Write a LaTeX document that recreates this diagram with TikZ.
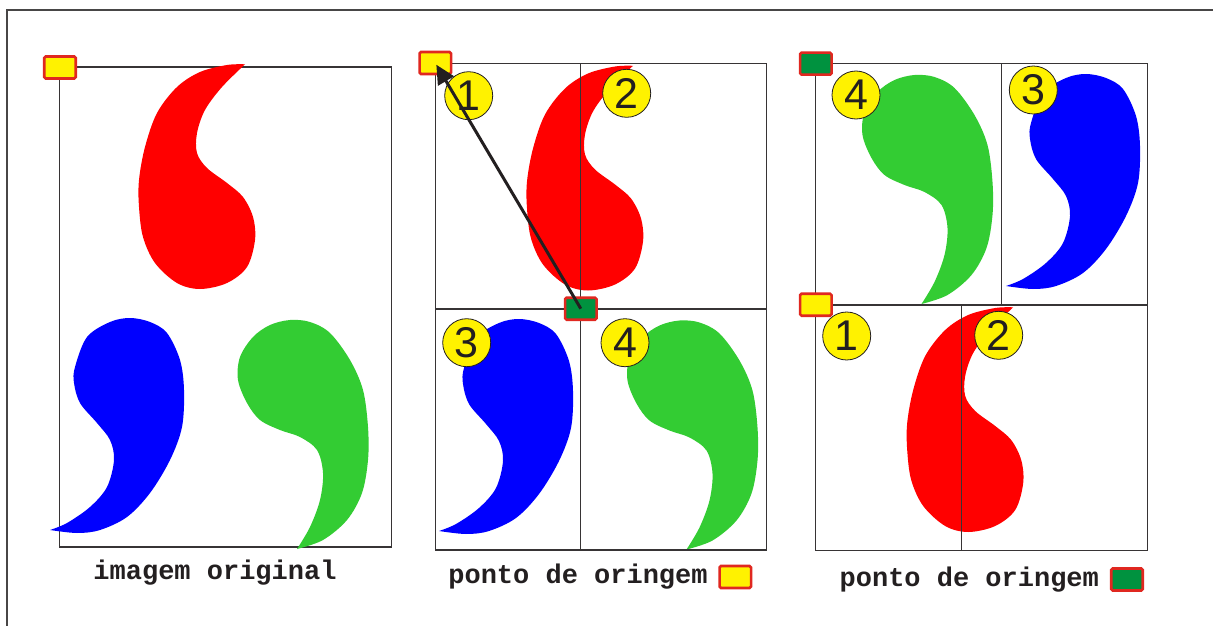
\documentclass[tikz,border=0pt]{standalone}
\usepackage{fontspec}
\setmainfont{Liberation Sans}
\setmonofont{Liberation Mono}
\usetikzlibrary{arrows.meta}

\definecolor{cred}{RGB}{255,0,0}
\definecolor{cblue}{RGB}{0,0,255}
\definecolor{cgreen}{RGB}{51,204,51}
\definecolor{myellow}{RGB}{255,242,0}
\definecolor{mkred}{RGB}{224,40,32}
\definecolor{dkgreen}{RGB}{0,146,63}
\definecolor{linegray}{RGB}{55,52,53}
\definecolor{framegray}{RGB}{72,70,70}
\definecolor{inkdark}{RGB}{35,31,32}

\tikzset{
  cell/.style={draw=linegray, line width=1.1pt},
  numc/.style={circle, draw=inkdark, line width=0.8pt, fill=myellow,
    minimum size=48pt, inner sep=0pt, text=inkdark,
    font=\fontsize{43}{43}\selectfont},
  ymarker/.style={rectangle, rounded corners=1.5pt, draw=mkred, line width=2.6pt,
    fill=myellow, minimum width=31.5pt, minimum height=22pt, inner sep=0pt},
  gmarker/.style={ymarker, fill=dkgreen},
  lbl/.style={anchor=base, inner sep=0pt, text=inkdark,
    font=\ttfamily\bfseries\fontsize{27}{27}\selectfont},
  arr/.style={draw=inkdark, line width=3pt, shorten >=2pt,
    -{Triangle[length=19pt,width=18pt]}},
  % the three comma-shaped pieces, in the coordinates of the first panel
  redcomma/.pic={
    \fill[cred] plot[smooth, tension=0.55] coordinates {
      (245,64.3) (227,65) (200,72) (177,87) (157,113) (145,147) (139,180)
      (139,207) (143,237) (155,263) (177,283) (200,289) (227,283) (247,267)
      (255,240) (253,217) (243,197) (227,183) (207,168) (197,153) (197,133)
      (205,110) (222,87) (245,64.3)} -- cycle;
  },
  bluecomma/.pic={
    \fill[cblue] plot[smooth, tension=0.55] coordinates {
      (50,530) (77,533) (100,530) (127,517) (150,493) (170,460) (182,427)
      (184,390) (180,360) (167,333) (150,322) (130,318) (110,322) (87,337)
      (75,367) (74,383) (80,403) (97,423) (110,440) (114,460) (107,487)
      (90,507) (67,523) (50,530)} -- cycle;
  },
  greencomma/.pic={
    \fill[cgreen] plot[smooth, tension=0.55] coordinates {
      (297,549) (323,540) (347,520) (362,493) (368,460) (368,427) (363,390)
      (350,360) (330,333) (310,322) (290,320) (270,325) (253,337) (240,357)
      (238,380) (247,403) (260,420) (280,430) (300,437) (317,450) (323,473)
      (320,500) (310,527) (297,549)} -- cycle;
  },
}

\begin{document}
\begin{tikzpicture}[x=1pt, y=-1pt]
\useasboundingbox (0,0) rectangle (1213,626);
\fill[white] (0,0) rectangle (1213,626);

% outer frame (top and left edges)
\draw[framegray, line width=2pt] (1216,10) -- (7,10) -- (7,630);

% ---------- panel 1: the original image ----------
\draw[cell] (59.5,67) rectangle (391.5,547);
\pic at (0,0) {redcomma};
\pic at (0,0) {bluecomma};
\pic at (0,0) {greencomma};
\node[ymarker] (y1) at (60,67.5) {};
\node[lbl] (l1) at (215,579) {imagem original};

% ---------- panel 2: split into four tiles ----------
\pic at (388,1.5) {redcomma};
\pic at (389,1) {bluecomma};
\pic at (389.5,0.5) {greencomma};
\draw[cell] (435.5,63.5) rectangle (766.7,308.2);
\draw[cell] (435.5,309.8) rectangle (766.7,550);
\draw[cell] (580.7,63.5) -- (580.7,550);
\node[numc] (a1) at (468.7,95.7) {1};
\node[numc] (a2) at (626.7,93.3) {2};
\node[numc] (a3) at (466.7,342.7) {3};
\node[numc] (a4) at (625,342.7) {4};
\node[ymarker] (y2) at (435.3,63) {};
\node[gmarker] (g2) at (580.8,308.7) {};
\draw[arr] (g2.center) -- (y2.center);
\node[lbl] (l2) at (578,583.5) {ponto de oringem};
\node[ymarker] (k2) at (735.3,577) {};

% ---------- panel 3: tiles rearranged ----------
\pic at (768.2,243) {redcomma};
\pic at (956,-244) {bluecomma};
\pic at (624.5,-245) {greencomma};
\draw[cell] (815.7,63.3) rectangle (1147.3,305);
\draw[cell] (1001.7,63.3) -- (1001.7,305);
\draw[cell] (815.7,305) rectangle (1147.3,550.7);
\draw[cell] (961.3,305) -- (961.3,550.7);
\node[numc] (b4) at (856,95) {4};
\node[numc] (b3) at (1033.3,90) {3};
\node[numc] (b1) at (846.7,336) {1};
\node[numc] (b2) at (998.7,335.3) {2};
\node[gmarker] (g3) at (815.8,63.7) {};
\node[ymarker] (y3) at (815.8,304.7) {};
\node[lbl] (l3) at (969.3,586) {ponto de oringem};
\node[gmarker] (k3) at (1127,579.5) {};
\end{tikzpicture}
\end{document}
